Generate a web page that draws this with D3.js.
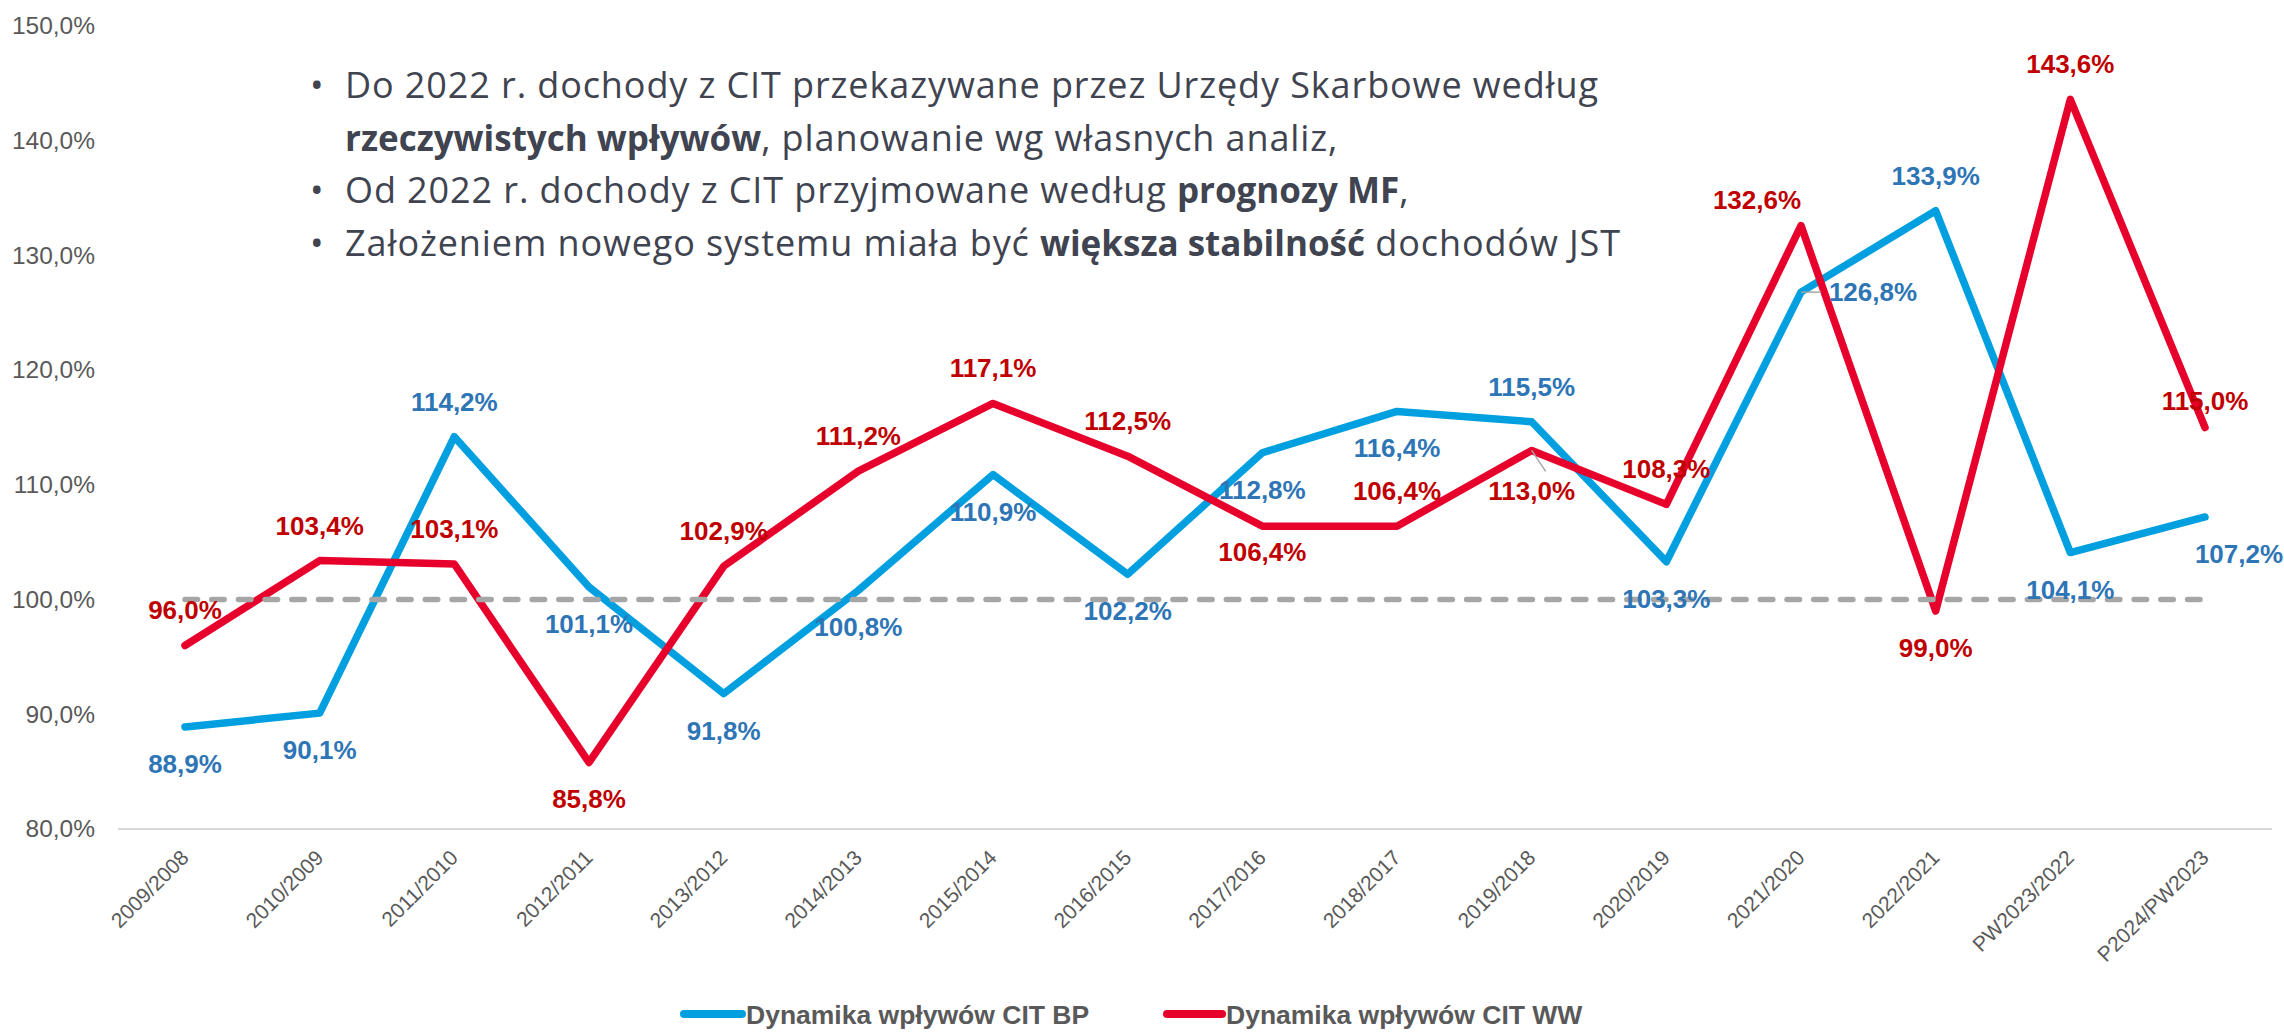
<!DOCTYPE html>
<html><head><meta charset="utf-8">
<script src="https://cdn.jsdelivr.net/npm/d3@7"></script>
<style>html,body{margin:0;padding:0;background:#fff;}svg{display:block;}</style>
</head><body>
<svg id="chart" width="2284" height="1032"></svg>
<script>
const categories = ["2009/2008","2010/2009","2011/2010","2012/2011","2013/2012","2014/2013","2015/2014","2016/2015","2017/2016","2018/2017","2019/2018","2020/2019","2021/2020","2022/2021","PW2023/2022","P2024/PW2023"];
const valuesBP = [88.9, 90.1, 114.2, 101.1, 91.8, 100.8, 110.9, 102.2, 112.8, 116.4, 115.5, 103.3, 126.8, 133.9, 104.1, 107.2];
const valuesWW = [96.0, 103.4, 103.1, 85.8, 102.9, 111.2, 117.1, 112.5, 106.4, 106.4, 113.0, 108.3, 132.6, 99.0, 143.6, 115.0];
const baseline = 100;
const yTicks = [80, 90, 100, 110, 120, 130, 140, 150];
const seriesNames = ["Dynamika wpływów CIT BP", "Dynamika wpływów CIT WW"];
const bullets = [
  {bullet:true, parts:[["Do 2022 r. dochody z CIT przekazywane przez Urzędy Skarbowe według",false]]},
  {bullet:false, parts:[["rzeczywistych wpływów",true],[", planowanie wg własnych analiz,",false]]},
  {bullet:true, parts:[["Od 2022 r. dochody z CIT przyjmowane według ",false],["prognozy MF",true],[",",false]]},
  {bullet:true, parts:[["Założeniem nowego systemu miała być ",false],["większa stabilność",true],[" dochodów JST",false]]}
];
// label placement per point (style)
const placeBP = ["below","below","above","below","below","below","below","below","below","below","above","below","right","above","below","belowRight"];
const placeWW = ["above","above","above","below","above","above","above","above","belowNear","above","belowLeader","above","aboveLeft","below","above","aboveNear"];

const offsets = {above:[0,-35], below:[0,37], belowNear:[0,26], aboveNear:[0,-27], right:[72,0], belowRight:[34,37], aboveLeft:[-44,-26], belowLeader:[0,41]};

const svg = d3.select("#chart");
const x = d3.scalePoint().domain(categories).range([185, 2205]);
const y = d3.scaleLinear().domain([80, 150]).range([829, 26]);
const fmt = v => d3.format(".1f")(v).replace(".", ",") + "%";

const BLUE = "#009FDF", RED = "#E6002B", BLUE_T = "#2E75B6", RED_T = "#C00000", GRAY = "#595959";

// axis line
svg.append("line").attr("x1", 118).attr("x2", 2272).attr("y1", y(80)).attr("y2", y(80))
  .attr("stroke", "#D9D9D9").attr("stroke-width", 2);

// y tick labels
const yAxis = d3.axisLeft(y).tickValues(yTicks).tickFormat(fmt).tickSize(0).tickPadding(0);
const gy = svg.append("g").attr("transform", "translate(95,0)").call(yAxis);
gy.select(".domain").remove();
gy.selectAll("text").attr("font-family", "Liberation Sans, Arial, sans-serif").attr("font-size", 24.5).attr("fill", GRAY);

// x tick labels
const gx = svg.append("g");
gx.selectAll("text").data(categories).join("text")
  .attr("transform", d => `translate(${x(d) + 5},${y(80) + 30}) rotate(-45)`)
  .attr("text-anchor", "end")
  .attr("font-family", "Liberation Sans, Arial, sans-serif").attr("font-size", 21).attr("fill", GRAY)
  .text(d => d);

// lines
const line = d3.line().x((d, i) => x(categories[i])).y(d => y(d));
svg.append("path").datum(valuesBP).attr("d", line).attr("fill", "none").attr("stroke", BLUE)
  .attr("stroke-width", 7.5).attr("stroke-linejoin", "round").attr("stroke-linecap", "round");
svg.append("path").datum(valuesWW).attr("d", line).attr("fill", "none").attr("stroke", RED)
  .attr("stroke-width", 7.5).attr("stroke-linejoin", "round").attr("stroke-linecap", "round");
// baseline
svg.append("line").attr("x1", x(categories[0])).attr("x2", x(categories[categories.length-1]))
  .attr("y1", y(baseline)).attr("y2", y(baseline))
  .attr("stroke", "#A6A6A6").attr("stroke-width", 5.5).attr("stroke-dasharray", "12.5,14.2").attr("stroke-linecap", "round");

// leader lines
function leader(vals, place) {
  vals.forEach((v, i) => {
    const p = place[i];
    if (p === "right") {
      svg.append("line").attr("x1", x(categories[i])).attr("x2", x(categories[i]) + 20)
        .attr("y1", y(v)).attr("y2", y(v)).attr("stroke", "#A6A6A6").attr("stroke-width", 1.5);
    } else if (p === "belowLeader") {
      svg.append("line").attr("x1", x(categories[i])).attr("x2", x(categories[i]) + 14)
        .attr("y1", y(v)).attr("y2", y(v) + 21).attr("stroke", "#A6A6A6").attr("stroke-width", 1.5);
    }
  });
}
leader(valuesBP, placeBP);
leader(valuesWW, placeWW);

// data labels
function labels(vals, place, color) {
  svg.append("g").selectAll("text").data(vals).join("text")
    .attr("x", (d, i) => x(categories[i]) + offsets[place[i]][0])
    .attr("y", (d, i) => y(d) + offsets[place[i]][1])
    .attr("text-anchor", "middle").attr("dominant-baseline", "central")
    .attr("font-family", "Liberation Sans, Arial, sans-serif").attr("font-weight", "bold")
    .attr("font-size", 26).attr("fill", color).text(d => fmt(d));
}
labels(valuesBP, placeBP, BLUE_T);
labels(valuesWW, placeWW, RED_T);

// bullet text
const tb = svg.append("g").attr("font-family", "Open Sans, sans-serif").attr("fill", "#404350");
bullets.forEach((b, i) => {
  const by = 98 + i * 52.5;
  if (b.bullet) tb.append("text").attr("x", 310).attr("y", by).attr("font-size", 36).text("•");
  const t = tb.append("text").attr("x", 345).attr("y", by);
  b.parts.forEach(([s, bold]) => t.append("tspan")
    .attr("font-weight", bold ? "bold" : "normal")
    .attr("font-size", bold ? 35 : 36)
    .attr("letter-spacing", bold ? 0 : 0.9)
    .text(s));
});

// legend
const legend = [{name: seriesNames[0], color: BLUE, x0: 684, x1: 742, tx: 746},
                {name: seriesNames[1], color: RED, x0: 1167, x1: 1222, tx: 1226}];
legend.forEach(l => {
  svg.append("line").attr("x1", l.x0).attr("x2", l.x1).attr("y1", 1014).attr("y2", 1014)
    .attr("stroke", l.color).attr("stroke-width", 8).attr("stroke-linecap", "round");
  svg.append("text").attr("x", l.tx).attr("y", 1024).attr("font-family", "Liberation Sans, Arial, sans-serif")
    .attr("font-weight", "bold").attr("font-size", 26.5).attr("fill", GRAY).text(l.name);
});
</script>
</body></html>
